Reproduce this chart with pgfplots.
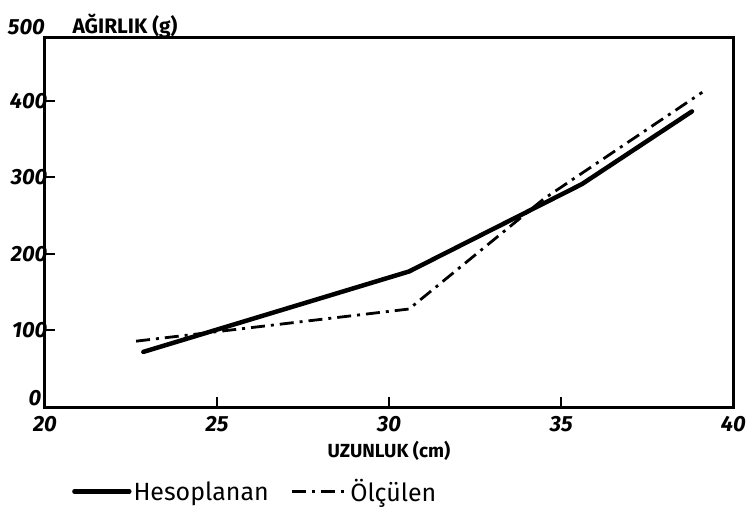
\documentclass[border=0pt]{standalone}
\usepackage{fontspec}
\setmainfont{Fira Sans}
\usepackage{pgfplots}
\pgfplotsset{compat=1.18}
\begin{document}
\begin{tikzpicture}
\begin{axis}[
  scale only axis, width=690pt, height=370pt,
  xmin=20, xmax=40, ymin=0, ymax=482,
  axis line style={line width=3pt, line cap=round},
  xtick={20,25,30,35,40}, ytick={100,200,300,400},
  xtick pos=bottom, ytick pos=left,
  tick align=inside, major tick length=10pt,
  tick style={line width=2pt, black},
  /pgf/number format/assume math mode=true,
  ticklabel style={font=\fontsize{22}{26}\selectfont\bfseries\itshape},
  xticklabel style={yshift=-6pt},
  yticklabel style={xshift=6pt},
  xlabel={UZUNLUK (cm)},
  xlabel style={font=\fontsize{19}{22}\selectfont\bfseries, yshift=-2pt},
  legend style={at={(rel axis cs:0.035,-0.185)}, anchor=north west, draw=none,
    font=\fontsize{25}{30}\selectfont, legend columns=2,
    /tikz/every even column/.append style={column sep=20pt}},
  legend image code/.code={\draw[#1] (0pt,0pt) -- (55pt,0pt);},
  clip=false,
]
\addplot[black, line width=4.5pt, line cap=round, line join=round] coordinates {
  (22.86,72) (30.58,177) (35.6,291) (38.8,386)
};
\addlegendentry{Hesoplanan}
\addplot[black, line width=2.8pt, dash pattern=on 14pt off 6pt on 3pt off 6pt] coordinates {
  (22.65,86) (30.58,128) (34.5,272) (39.1,411)
};
\addlegendentry{Ölçülen}
\node[anchor=south west, font=\fontsize{21}{25}\selectfont\bfseries] at (rel axis cs:0.035,0.99) {AĞIRLIK (g)};
\node[anchor=east, font=\fontsize{22}{26}\selectfont\bfseries\itshape] at (rel axis cs:0.005,1.03) {500};
\node[anchor=east, font=\fontsize{22}{26}\selectfont\bfseries\itshape] at (rel axis cs:0.0,0.025) {0};
\end{axis}
\useasboundingbox ([shift={(-45pt,-108pt)}]current axis.south west) rectangle ([shift={(704pt,408pt)}]current axis.south west);
\end{tikzpicture}
\end{document}
